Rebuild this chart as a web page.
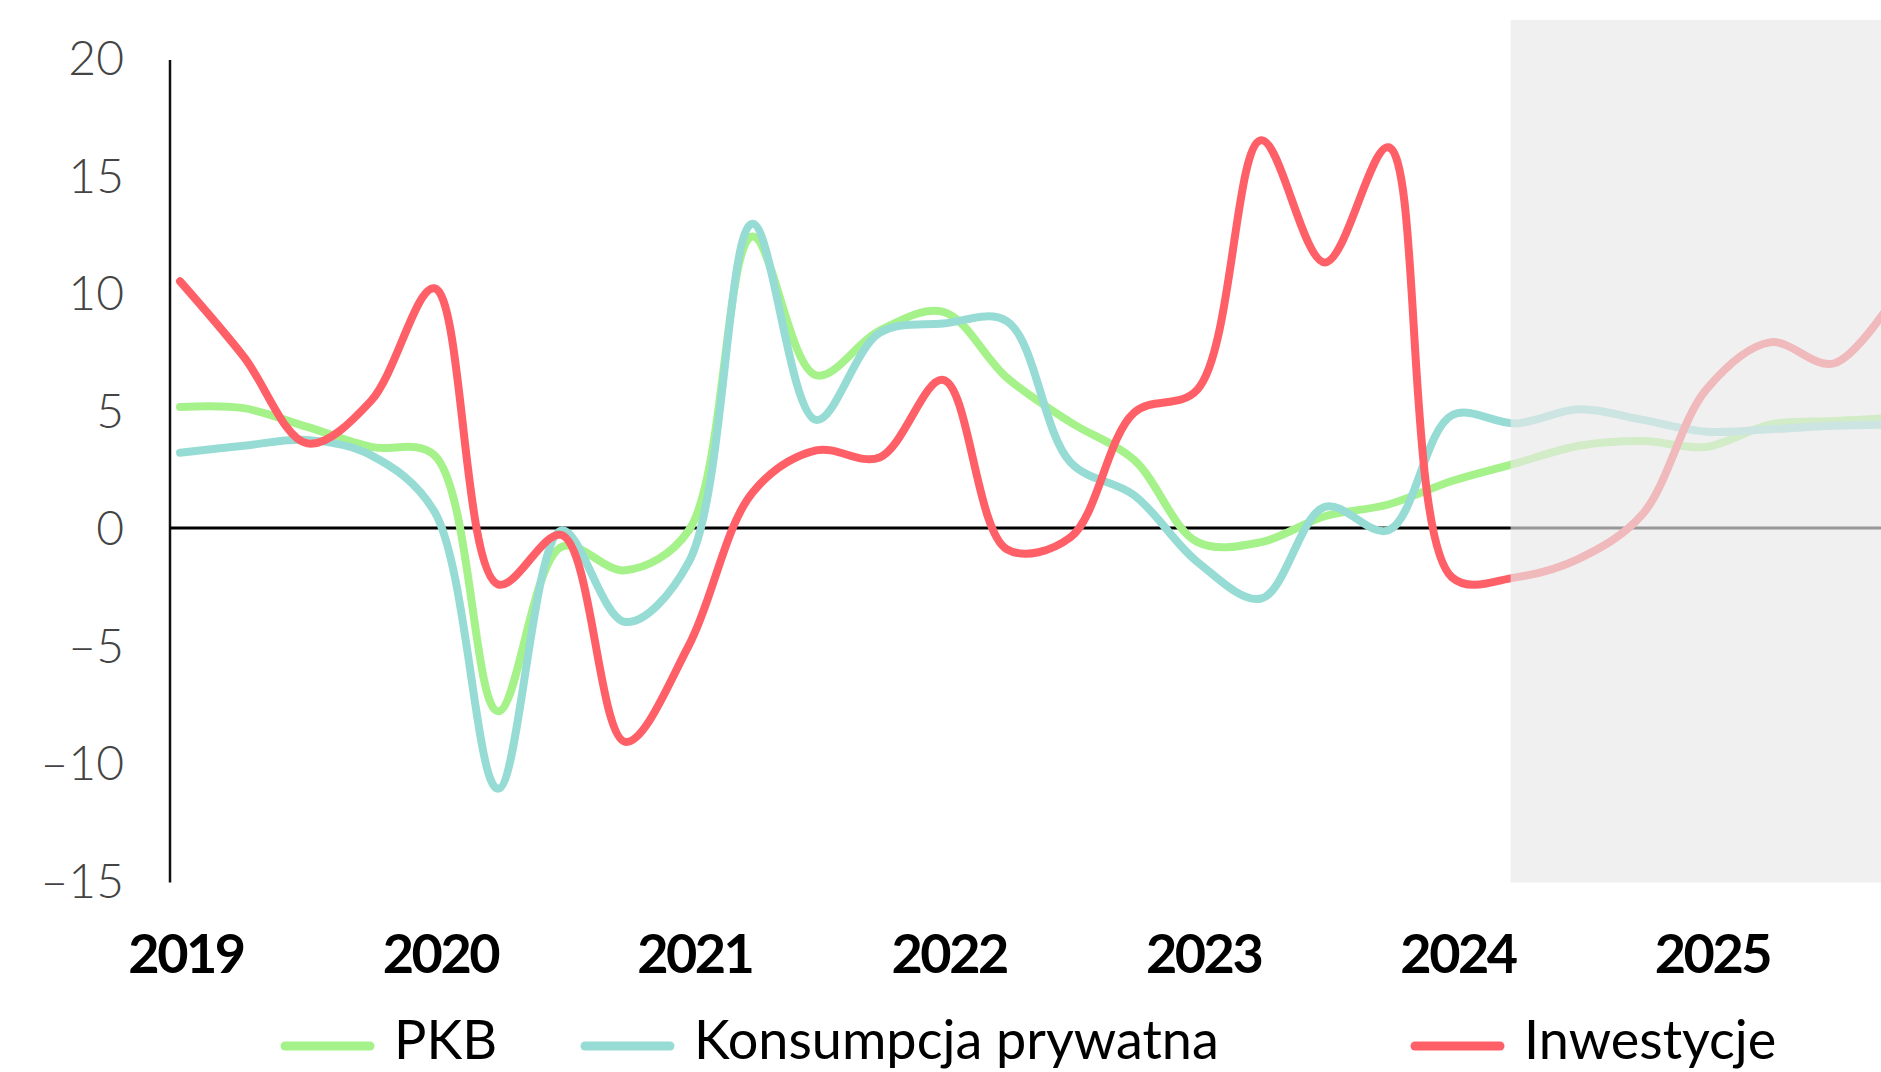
<!DOCTYPE html>
<html>
<head>
<meta charset="utf-8">
<script src="https://cdn.jsdelivr.net/npm/d3@7"></script>
<style>
  body { margin: 0; background: #fff; }
  svg { display: block; }
</style>
</head>
<body>
<div id="chart"></div>
<script>
// Quarterly data, 2019 Q1 .. 2025 Q4 (y/y, %)
const years = [2019, 2020, 2021, 2022, 2023, 2024, 2025];
const quarters = years.flatMap((y) => [1, 2, 3, 4].map((q) => `${y} Q${q}`));

const pkb = [
    5.15, 5.1, 4.3, 3.45,
    3.1, -7.8, -0.8, -1.8,
    -0.1, 12.4, 6.5, 8.4,
    9.2, 6.4, 4.5, 2.9,
    -0.6, -0.6, 0.5, 1.0,
    2.0, 2.75, 3.5, 3.7,
    3.45, 4.4, 4.55, 4.7,
];
const konsumpcja = [
    3.2, 3.5, 3.75, 3.1,
    0.7, -11.1, -0.1, -4.0,
    -1.45, 12.95, 4.6, 8.3,
    8.7, 8.8, 2.8, 1.4,
    -1.45, -3.0, 0.9, -0.1,
    4.8, 4.45, 5.05, 4.6,
    4.1, 4.2, 4.35, 4.4,
];
const inwestycje = [
    10.5, 7.3, 3.6, 5.4,
    10.2, -2.4, -0.3, -9.1,
    -5.0, 1.5, 3.3, 3.0,
    6.3, -0.9, -0.4, 4.9,
    5.9, 16.5, 11.3, 16.2,
    -2.1, -2.1, -1.3, 0.6,
    5.9, 7.9, 7.0, 10.0,
];

const seriesNames = ["PKB", "Konsumpcja prywatna", "Inwestycje"];
const seriesColors = ["#a6f28a", "#96dcd5", "#ff5f66"];
const seriesValues = [pkb, konsumpcja, inwestycje];

const yTicks = [20, 15, 10, 5, 0, -5, -10, -15];
const forecastFrom = "2024 Q2";

const W = 1881, H = 1072;

const svg = d3
    .select("#chart")
    .append("svg")
    .attr("width", W)
    .attr("height", H);

const x = d3
    .scalePoint()
    .domain(quarters)
    .range([180, 180 + 63.6 * (quarters.length - 1)]);

const y = d3
    .scaleLinear()
    .domain([-15, 20])
    .range([880.5, 58]);

// y axis: only the line and the labels
svg.append("line")
    .attr("x1", 170)
    .attr("x2", 170)
    .attr("y1", y(20) + 2)
    .attr("y2", y(-15) + 2)
    .attr("stroke", "#111")
    .attr("stroke-width", 2.5);

svg.append("g")
    .selectAll("text")
    .data(yTicks)
    .join("text")
    .attr("x", 124)
    .attr("y", (d) => y(d))
    .attr("dy", "0.36em")
    .attr("text-anchor", "end")
    .style("font-family", "Lato, sans-serif")
    .style("font-weight", 300)
    .style("font-size", "48px")
    .attr("fill", "#444")
    .text((d) => (d < 0 ? "\u2013" + Math.abs(d) : d));

// zero line
svg.append("line")
    .attr("x1", 170)
    .attr("x2", W)
    .attr("y1", y(0))
    .attr("y2", y(0))
    .attr("stroke", "#000")
    .attr("stroke-width", 3);

// year labels
svg.append("g")
    .selectAll("text")
    .data(years)
    .join("text")
    .attr("x", (d) => x(`${d} Q1`) + 6)
    .attr("y", 973)
    .attr("text-anchor", "middle")
    .style("font-family", "Lato, sans-serif")
    .style("font-weight", 700)
    .style("font-size", "54px")
    .style("letter-spacing", "-2.5px")
    .attr("fill", "#000")
    .text((d) => d);

const line = d3
    .line()
    .x((d, i) => x(quarters[i]))
    .y((d) => y(d))
    .curve(d3.curveCatmullRom.alpha(0.5));

svg.append("g")
    .selectAll("path")
    .data(seriesValues)
    .join("path")
    .attr("d", (d) => line(d))
    .attr("fill", "none")
    .attr("stroke", (d, i) => seriesColors[i])
    .attr("stroke-width", 8)
    .attr("stroke-linejoin", "round")
    .attr("stroke-linecap", "round");

// forecast area, drawn over the lines so they fade
svg.append("rect")
    .attr("x", x(forecastFrom) - 5)
    .attr("y", 20)
    .attr("width", W - x(forecastFrom) + 5)
    .attr("height", y(-15) + 2 - 20)
    .attr("fill", "#e8e8e8")
    .attr("opacity", 0.656);

// legend
const legendX = [280, 580, 1410];
const legend = svg
    .append("g")
    .selectAll("g")
    .data(seriesNames)
    .join("g")
    .attr("transform", (d, i) => `translate(${legendX[i]}, 1046)`);

legend.append("line")
    .attr("x1", 5)
    .attr("x2", 90)
    .attr("stroke", (d, i) => seriesColors[i])
    .attr("stroke-width", 9)
    .attr("stroke-linecap", "round");

legend.append("text")
    .attr("x", 114)
    .attr("y", 13)
    .style("font-family", "Lato, sans-serif")
    .style("font-weight", 400)
    .style("font-size", "54px")
    .attr("fill", "#000")
    .text((d) => d);
</script>
</body>
</html>
